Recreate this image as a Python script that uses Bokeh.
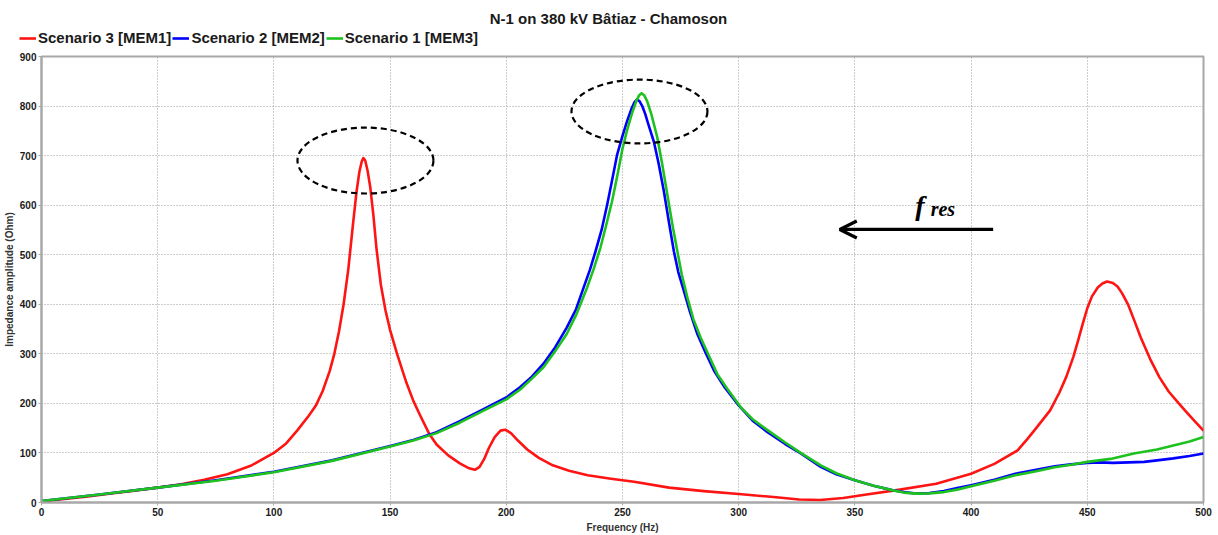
from bokeh.plotting import figure
from bokeh.models import (Legend, LegendItem, Arrow, OpenHead, Range1d, Label)
from bokeh.core.properties import value
from bokeh.embed import file_html
from bokeh.resources import INLINE

# ---------------- data ----------------
title = "N-1 on 380 kV Bâtiaz - Chamoson"
x_label = "Frequency (Hz)"
y_label = "Impedance amplitude (Ohm)"

names = ["Scenario 3 [MEM1]", "Scenario 2 [MEM2]", "Scenario 1 [MEM3]"]
colors = ["#ff1414", "#0000ff", "#1ec21e"]

s3_f = [0, 10, 20, 30, 40, 50, 60, 70, 80, 90, 100, 105, 110, 115, 118, 121, 124, 126, 128, 130,
        132, 134, 135.5, 136.8, 137.8, 138.5, 139.3, 140.3, 141.5, 142.8, 144.2, 146, 148, 150, 153,
        157, 160, 163, 167, 170, 175, 180, 184, 186.5, 188.5, 190.5, 192.5, 195, 197.5, 199.5, 202,
        205, 209, 214, 220, 227, 235, 245, 255, 270, 285, 300, 315, 326, 335, 345, 355, 368, 385,
        400, 410, 420, 424, 428, 434, 438, 441, 444, 446, 448, 450, 452, 454.5, 456.5, 458.5, 461,
        463, 465, 467.5, 470, 473, 477, 481, 485, 489, 492, 496, 500]
s3_z = [2, 7, 12, 18, 24, 30, 37, 46, 57, 74, 100, 118, 145, 175, 195, 225, 265, 300, 345, 400,
        470, 560, 625, 668, 688, 695, 690, 670, 635, 580, 510, 440, 388, 348, 300,
        242, 205, 175, 137, 117, 95, 79, 69, 66, 72, 88, 110, 132, 145, 147, 140,
        125, 107, 90, 75, 64, 55, 48, 42, 30, 23, 17, 11, 6, 5, 9, 16, 25, 38,
        58, 78, 105, 127, 150, 186, 222, 254, 294, 326, 360, 392, 416, 434, 442, 446, 443,
        436, 422, 400, 370, 333, 290, 253, 224, 202, 186, 165, 145]

s2_f = [0, 25, 50, 75, 100, 125, 150, 160, 170, 180, 190, 200, 206, 211, 216, 221, 226, 230, 233.3,
        236, 238.4, 241, 243.4, 245.5, 247.7, 250, 252, 254, 255.2, 256.2, 257.3, 258.5, 259.7,
        261, 263.5, 265.5, 267.8, 270, 272.1, 274, 276.4, 279, 282.2, 285.5, 289.4, 294, 300, 306,
        312.4, 320, 326.7, 335.3, 342, 350, 358, 366, 371, 376.4, 382, 388.3, 394, 400, 410, 419,
        428, 436, 443, 450, 455, 461, 468, 474.5, 480, 487, 494, 500]
s2_z = [3, 16, 30, 45, 62, 85, 114, 126, 142, 164, 188, 212, 233, 254, 280, 313, 353, 390, 434,
        470, 507, 550, 601, 650, 702, 740, 770, 796, 808, 813, 810, 800, 785,
        765, 728, 685, 628, 565, 507, 465, 427, 385, 340, 305, 266, 232, 196, 165,
        142, 118, 99, 72, 57, 45, 34, 25, 21, 18, 19, 23, 29, 35, 46, 58,
        66, 73, 77, 80, 81, 80, 81, 82, 85, 89, 94, 99]

s1_f = [0, 25, 50, 75, 100, 125, 150, 160, 170, 180, 190, 200, 206, 211, 216, 221, 226, 230, 234.8,
        237.5, 240.5, 243, 245.5, 248, 249.9, 252, 254.2, 256, 257.2, 258.2, 259.3, 260.6, 262.5,
        264.9, 267, 269.3, 271.5, 273.6, 275.5, 277.9, 280.5, 283.6, 287, 290.8, 295, 300.9, 306,
        312.4, 320, 326.7, 335.3, 342, 350, 358, 366, 371, 376.4, 382, 388.3, 394, 400, 410, 419,
        428, 436, 443, 450, 460, 470, 480, 487, 494, 500]
s1_z = [3, 16, 30, 44, 61, 84, 113, 125, 140, 161, 185, 208, 228, 250, 273, 305, 340, 378, 434,
        470, 514, 560, 608, 665, 712, 752, 787, 811, 822, 826, 822, 810, 782,
        738, 685, 621, 560, 507, 460, 414, 370, 333, 298, 259, 230, 192, 168,
        146, 121, 100, 75, 59, 45, 34, 25, 20, 18, 18.5, 21, 26, 33, 44, 55,
        63, 71, 76, 82, 88, 99, 107, 115, 123, 132]

x_ticks = [0, 50, 100, 150, 200, 250, 300, 350, 400, 450, 500]
y_ticks = [0, 100, 200, 300, 400, 500, 600, 700, 800, 900]

# annotation geometry (data units)
ellipse_x = [139.4, 257.3]
ellipse_y = [690, 789]
ellipse_w = [58.5, 58.5]
ellipse_h = [133, 129]
arrow_from = (409.5, 551)
arrow_to = (343.5, 551)

W = 1218
HEADER_H = 48
MAIN_H = 535 - HEADER_H

# ---------------- header (title + legend) ----------------
hdr = figure(width=W, height=HEADER_H, output_backend="svg", toolbar_location=None,
             x_range=Range1d(0, W), y_range=Range1d(HEADER_H, 0),
             x_axis_type=None, y_axis_type=None,
             min_border=0, min_border_left=0, min_border_right=0,
             min_border_top=0, min_border_bottom=0)
hdr.outline_line_color = None
hdr.grid.visible = False
hdr.background_fill_color = "white"
hdr.border_fill_color = "white"

hdr.add_layout(Label(x=608, y=18, text=title, text_align="center",
                     text_baseline="middle", text_font="Liberation Sans",
                     text_font_size="15px", text_font_style="bold", text_color="#1a1a1a"))

dummies = [hdr.line([-100, -90], [-100, -100], line_color=c, line_width=2.6) for c in colors]
legend = Legend(items=[LegendItem(label=n, renderers=[r]) for n, r in zip(names, dummies)],
                orientation="horizontal", location=(19, 2))
legend.label_text_font = "Liberation Sans"
legend.label_text_font_size = "15px"
legend.label_text_font_style = "bold"
legend.label_text_color = "#1a1a1a"
legend.glyph_width = 17
legend.glyph_height = 16
legend.label_standoff = 2
legend.spacing = 1
legend.padding = 0
legend.margin = 0
legend.border_line_color = None
legend.background_fill_alpha = 0
legend.label_height = 16
hdr.add_layout(legend, "center")

# ---------------- main plot ----------------
p = figure(width=W, height=MAIN_H, output_backend="svg", toolbar_location=None,
           x_range=Range1d(0, 500), y_range=Range1d(0, 900),
           min_border_left=41, min_border_right=15, min_border_top=8, min_border_bottom=33)
p.background_fill_color = "white"
p.border_fill_color = "white"
p.outline_line_color = "#a8a8a8"
p.outline_line_width = 2

for ax in (p.xaxis[0], p.yaxis[0]):
    ax.axis_line_color = "#a8a8a8"
    ax.axis_line_width = 2
    ax.major_tick_line_color = "#a8a8a8"
    ax.major_tick_out = 3
    ax.major_tick_in = 0
    ax.minor_tick_line_color = None
    ax.major_label_text_font = "Liberation Sans"
    ax.major_label_text_font_size = "10px"
    ax.major_label_text_font_style = "bold"
    ax.major_label_text_color = "#1a1a1a"
    ax.axis_label_text_font = "Liberation Sans"
    ax.axis_label_text_font_size = "10px"
    ax.axis_label_text_font_style = "bold"
    ax.axis_label_text_color = "#333333"

p.xaxis[0].ticker = x_ticks
p.yaxis[0].ticker = y_ticks
p.xaxis[0].axis_label = x_label
p.yaxis[0].axis_label = y_label
p.xaxis[0].major_label_standoff = 2
p.xaxis[0].axis_label_standoff = 3
p.yaxis[0].major_label_standoff = 2
p.yaxis[0].axis_label_standoff = 2

p.grid.grid_line_color = "#9a9a9a"
p.grid.grid_line_dash = "1 2"
p.grid.grid_line_width = 1

series = [(s3_f, s3_z), (s2_f, s2_z), (s1_f, s1_z)]
for (f, z), c in zip(series, colors):
    p.line(f, z, line_color=c, line_width=2.6, line_join="round")

p.ellipse(x=ellipse_x, y=ellipse_y, width=ellipse_w, height=ellipse_h,
          fill_color=None, line_color="black", line_width=2.2, line_dash="6 4")

p.add_layout(Arrow(end=OpenHead(size=17, line_width=3.2, line_color="black"),
                   x_start=arrow_from[0], y_start=arrow_from[1],
                   x_end=arrow_to[0], y_end=arrow_to[1],
                   line_width=3.2, line_color="black"))

p.text(x=[376.0], y=[600], text=["f"], text_font=value("Liberation Serif"),
       text_font_size="28px", text_font_style="bold italic", text_color="black",
       text_baseline="alphabetic", text_align="left")
p.text(x=[382.6], y=[592], text=["res"], text_font=value("Liberation Serif"),
       text_font_size="20px", text_font_style="bold italic", text_color="black",
       text_baseline="alphabetic", text_align="left")

# two independent roots stacked (no frame alignment between them)
open("out.html", "w").write(file_html([hdr, p], INLINE))
